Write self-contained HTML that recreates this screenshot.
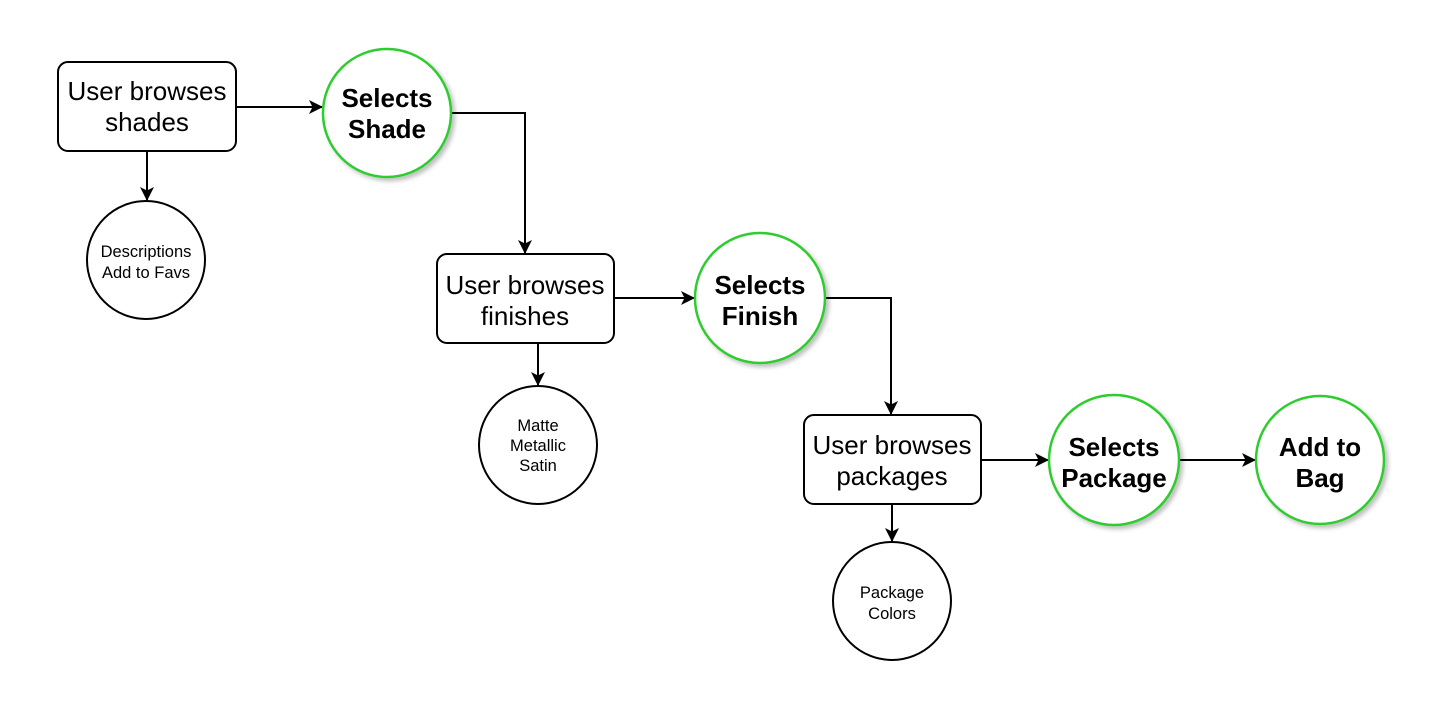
<!DOCTYPE html>
<html><head><style>body{margin:0;background:#fff}</style></head><body>
<svg width="1452" height="722" xmlns="http://www.w3.org/2000/svg" font-family="Liberation Sans, Arial, sans-serif">
<defs>
<marker id="a" markerWidth="14" markerHeight="14" refX="13" refY="7" orient="auto" markerUnits="userSpaceOnUse"><path d="M0,0 L14,7 L0,14 L3.5,7 z" fill="#000"/></marker>
<filter id="s" x="-20%" y="-20%" width="150%" height="150%"><feDropShadow dx="3" dy="3" stdDeviation="2" flood-opacity="0.25"/></filter>
</defs>
<g stroke="#000" stroke-width="2" fill="none">
<path d="M236,107 H322" marker-end="url(#a)"/>
<path d="M452,113 H525 V253" marker-end="url(#a)"/>
<path d="M147,151 V200" marker-end="url(#a)"/>
<path d="M614,298 H694" marker-end="url(#a)"/>
<path d="M825,298 H891 V414" marker-end="url(#a)"/>
<path d="M538,343 V385" marker-end="url(#a)"/>
<path d="M981,460 H1048" marker-end="url(#a)"/>
<path d="M1180,460 H1255" marker-end="url(#a)"/>
<path d="M892,504 V541" marker-end="url(#a)"/>
</g>
<g stroke="#000" stroke-width="2" fill="#fff">
<rect x="58" y="62" width="178" height="89" rx="10"/>
<rect x="437" y="254" width="177" height="89" rx="10"/>
<rect x="804" y="415" width="177" height="89" rx="10"/>
<circle cx="146" cy="260" r="59"/>
<circle cx="538" cy="445" r="59"/>
<circle cx="892" cy="601" r="59"/>
</g>
<g stroke="#2ecc2e" stroke-width="2.5" fill="#fff" filter="url(#s)">
<circle cx="387" cy="113" r="64"/>
<circle cx="760" cy="298" r="65"/>
<circle cx="1114" cy="460" r="65"/>
<circle cx="1320" cy="460" r="64"/>
</g>
<g text-anchor="middle" font-size="26" fill="#000">
<text x="147" y="100">User browses</text><text x="147" y="131">shades</text>
<text x="525" y="294">User browses</text><text x="525" y="325">finishes</text>
<text x="892" y="454">User browses</text><text x="892" y="485">packages</text>
</g>
<g text-anchor="middle" font-size="26" font-weight="bold" fill="#000">
<text x="387" y="107">Selects</text><text x="387" y="138">Shade</text>
<text x="760" y="294">Selects</text><text x="760" y="325">Finish</text>
<text x="1114" y="456">Selects</text><text x="1114" y="487">Package</text>
<text x="1320" y="456">Add to</text><text x="1320" y="487">Bag</text>
</g>
<g text-anchor="middle" font-size="16.5" fill="#000">
<text x="146" y="257">Descriptions</text><text x="146" y="278">Add to Favs</text>
<text x="538" y="431">Matte</text><text x="538" y="451">Metallic</text><text x="538" y="471">Satin</text>
<text x="892" y="598">Package</text><text x="892" y="619">Colors</text>
</g>
</svg>
</body></html>
